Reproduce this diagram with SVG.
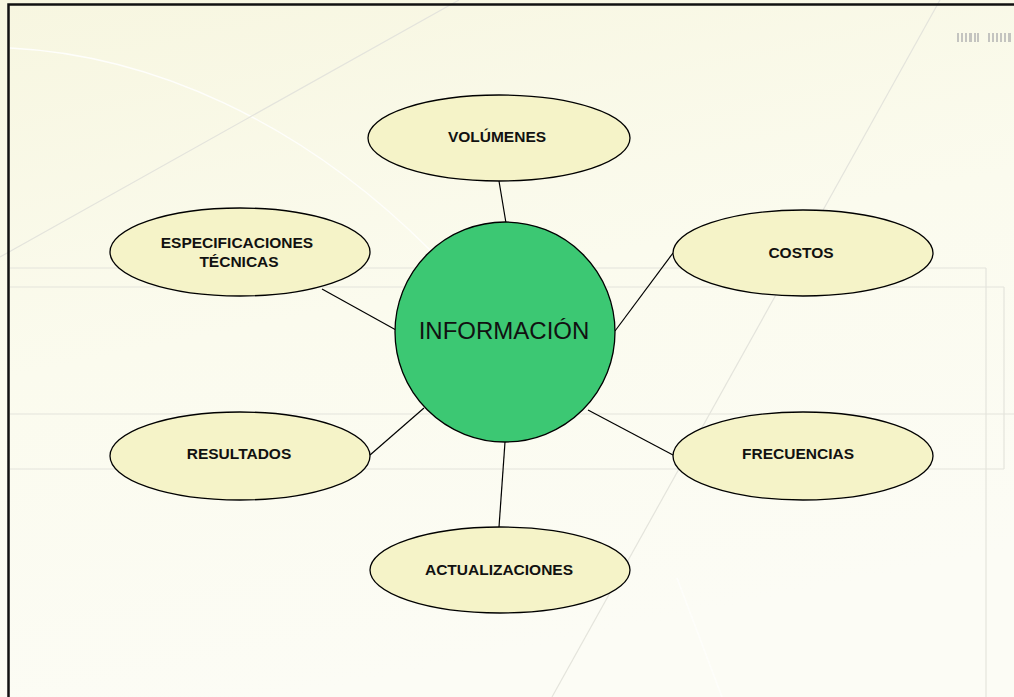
<svg xmlns="http://www.w3.org/2000/svg" width="1014" height="697" viewBox="0 0 1014 697">
<defs>
<linearGradient id="bg" x1="0" y1="0" x2="0.3" y2="1">
<stop offset="0" stop-color="#f7f6e0"/>
<stop offset="0.5" stop-color="#fbfbee"/>
<stop offset="1" stop-color="#fcfcf5"/>
</linearGradient>
<style>
.deco{fill:none;stroke:#e4e4dc;stroke-width:1.2}
.decow{fill:none;stroke:#fefefb;stroke-width:1.5}
.node{fill:#f5f3c8;stroke:#000;stroke-width:1.3}
.hub{fill:#3cc873;stroke:#000;stroke-width:1.3}
.lbl{font-family:"Liberation Sans",Arial,sans-serif;font-weight:bold;font-size:15.5px;fill:#111;text-anchor:middle}
.hubl{font-family:"Liberation Sans",Arial,sans-serif;font-size:24px;fill:#111;text-anchor:middle}
.conn line{stroke:#000;stroke-width:1.2}
</style>
</defs>
<rect x="0" y="0" width="1014" height="697" fill="url(#bg)"/>
<g id="background">
<path class="decow" d="M10,48 C150,55 300,120 430,250"/>
<line class="deco" x1="0" y1="257" x2="459" y2="0"/>
<line class="deco" x1="940" y1="0" x2="552" y2="697"/>
<path class="decow" d="M677,578 L722,697"/>
<line class="deco" x1="10" y1="268" x2="986" y2="268"/>
<line class="deco" x1="986" y1="268" x2="986" y2="697"/>
<line class="deco" x1="10" y1="287" x2="1004" y2="287"/>
<line class="deco" x1="1004" y1="287" x2="1004" y2="469"/>
<line class="deco" x1="10" y1="414" x2="1014" y2="414"/>
<line class="deco" x1="10" y1="469" x2="1004" y2="469"/>
<g fill="#c4c4c0">
<rect x="957" y="33" width="2" height="9"/><rect x="961" y="33" width="2" height="9"/><rect x="965" y="33" width="2" height="9"/><rect x="969" y="33" width="3" height="9"/><rect x="974" y="33" width="2" height="9"/><rect x="977" y="33" width="2" height="9"/>
<rect x="988" y="33" width="2" height="9"/><rect x="992" y="33" width="2" height="9"/><rect x="996" y="33" width="2" height="9"/><rect x="1000" y="33" width="2" height="9"/><rect x="1004" y="33" width="2" height="9"/><rect x="1008" y="33" width="3" height="9"/>
</g>
<path d="M8.5,697 L8.5,4.5 L1014,4.5" fill="none" stroke="#111" stroke-width="2.5"/>
</g>
<g id="connectors" class="conn">
<line x1="499" y1="181" x2="506" y2="223"/>
<line x1="322" y1="289" x2="396" y2="330"/>
<line x1="673" y1="253" x2="615" y2="331"/>
<line x1="370" y1="455" x2="424" y2="408"/>
<line x1="673" y1="455" x2="588" y2="410"/>
<line x1="505" y1="442" x2="499" y2="527"/>
</g>
<g id="n-volumenes"><ellipse class="node" cx="499" cy="138" rx="131" ry="43"/><text class="lbl" x="497" y="142">VOLÚMENES</text></g>
<g id="n-especificaciones"><ellipse class="node" cx="240" cy="252" rx="130" ry="44"/><text class="lbl" x="237" y="248">ESPECIFICACIONES</text><text class="lbl" x="239" y="267">TÉCNICAS</text></g>
<g id="n-costos"><ellipse class="node" cx="803" cy="253" rx="130" ry="43"/><text class="lbl" x="801" y="258">COSTOS</text></g>
<g id="n-resultados"><ellipse class="node" cx="240" cy="456" rx="130" ry="44"/><text class="lbl" x="239" y="459">RESULTADOS</text></g>
<g id="n-frecuencias"><ellipse class="node" cx="803" cy="456" rx="130" ry="44"/><text class="lbl" x="798" y="459">FRECUENCIAS</text></g>
<g id="n-actualizaciones"><ellipse class="node" cx="500" cy="570" rx="130" ry="43"/><text class="lbl" x="499" y="575">ACTUALIZACIONES</text></g>
<g id="n-informacion"><ellipse class="hub" cx="505" cy="332" rx="110" ry="110"/><text class="hubl" x="504" y="339">INFORMACIÓN</text></g>
</svg>
